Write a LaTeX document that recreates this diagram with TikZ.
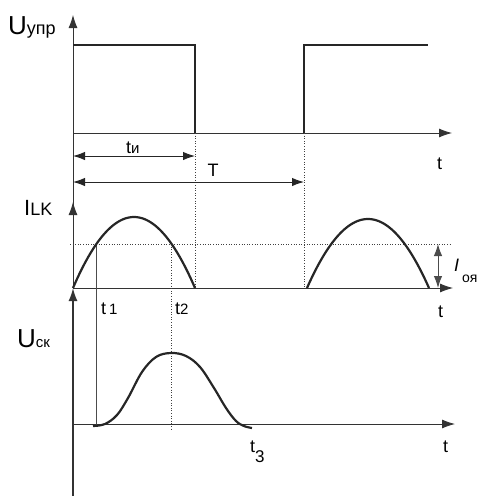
\documentclass[tikz,border=0pt]{standalone}
\usepackage{fontspec}
\setmainfont{Liberation Sans}
\usetikzlibrary{arrows.meta}

\begin{document}
\begin{tikzpicture}[
    x=1pt, y=-1pt,
    axis/.style={draw=black!80, line width=0.8pt},
    axisarrow/.style={axis, -{Latex[length=13pt,width=9pt]}},
    dimarrow/.style={draw=black!85, line width=1pt,
        {Latex[length=12pt,width=8.5pt]}-{Latex[length=12pt,width=8.5pt]}},
    signal/.style={draw=black!85, line width=2.2pt},
    guide/.style={draw=black!75, line width=0.6pt, dotted},
    lbl/.style={inner sep=0pt, anchor=base west, font=\fontsize{18}{18}\selectfont}
]
\useasboundingbox (0,0) rectangle (483,496);

% axes
\coordinate (yTop) at (73,15);
\coordinate (o1) at (73,133);
\coordinate (xEnd1) at (452,133);
\coordinate (y2Tip) at (73,202);
\coordinate (o2) at (73,288);
\coordinate (xEnd2) at (453,288);
\coordinate (o3) at (73,424);
\coordinate (xEnd3) at (455,424);
\coordinate (yBot) at (73,496);

\draw[axisarrow] (o2) -- (yTop);
\draw[axisarrow] (o2) -- (y2Tip);
\draw[axisarrow, line width=1.6pt] (yBot) -- (o2);
\draw[axisarrow] (o1) -- (xEnd1);
\draw[axisarrow] (o2) -- (xEnd2);
\draw[axisarrow] (o3) -- (xEnd3);

% control pulses
\coordinate (fall) at (195,133);
\coordinate (rise) at (304,133);
\draw[signal, line width=2.6pt] (o1 |- 0,45) -- (fall |- 0,45) -- (fall);
\draw[signal, line width=2.6pt] (rise) -- (rise |- 0,45) -- (428,45);

% guide lines
\coordinate (lvl0) at (70,244);
\coordinate (lvl1) at (450,244);
\coordinate (t1a) at (96,244);
\coordinate (t1b) at (96,426);
\coordinate (t2a) at (171,244);
\coordinate (t2b) at (171,430);
\draw[guide] (fall) -- (fall |- o2);
\draw[guide] (rise) -- (rise |- o2);
\draw[guide] (lvl0) -- (lvl1);
\draw[guide] (t2a) -- (t2b);
\draw[draw=black!70, line width=0.5pt] (t1a) -- (t1b);

% durations
\coordinate (ti0) at (73,156);
\coordinate (ti1) at (195,156);
\coordinate (T0) at (73,182);
\coordinate (T1) at (304,182);
\draw[dimarrow] (ti0) -- (ti1);
\draw[dimarrow] (T0) -- (T1);
\coordinate (io0) at (438,244);
\coordinate (io1) at (438,288);
\draw[dimarrow, draw=black!70] (io0) -- (io1);

% current humps
\draw[signal, domain=73:195, samples=60]
    plot (\x, {288-71*(1-((\x-134)/61)^2)});
\draw[signal, domain=307:429, samples=60]
    plot (\x, {288-69*(1-((\x-368)/61)^2)});

% output voltage
\draw[signal] plot[smooth, tension=0.6] coordinates {
    (93,426) (105,424) (117,415) (128,398) (142,372) (156,357) (171,353)
    (186,356) (200,367) (214,388) (226,408) (236,421) (244,426) (252,428)};

% labels
\node[lbl] (uupr) at (8,34) {{\fontsize{26}{26}\selectfont U}упр};
\node[lbl] (ilk) at (24,215) {{\fontsize{22}{22}\selectfont I}LK};
\node[lbl] (uck) at (17,347) {{\fontsize{26}{26}\selectfont U}{\fontsize{15}{15}\selectfont ск}};
\node[lbl] (ti) at (126,153) {t{\fontsize{15}{15}\selectfont и}};
\node[lbl, anchor=base] (T) at (213,176) {T};
\node[lbl] (tx1) at (437,169) {t};
\node[lbl] (tx2) at (438,317) {t};
\node[lbl] (tx3) at (443,452) {t};
\node[lbl] (t1) at (101,314) {t\,{\fontsize{15}{15}\selectfont 1}};
\node[lbl] (t2) at (175,314) {t{\fontsize{15}{15}\selectfont 2}};
\node[lbl] (t3) at (250,452) {t\raisebox{-10pt}{\fontsize{17}{17}\selectfont 3}};
\node[lbl] (ioya) at (454,271) {\textit{I}\,\raisebox{-11pt}{\fontsize{14}{14}\selectfont оя}};

\end{tikzpicture}
\end{document}
